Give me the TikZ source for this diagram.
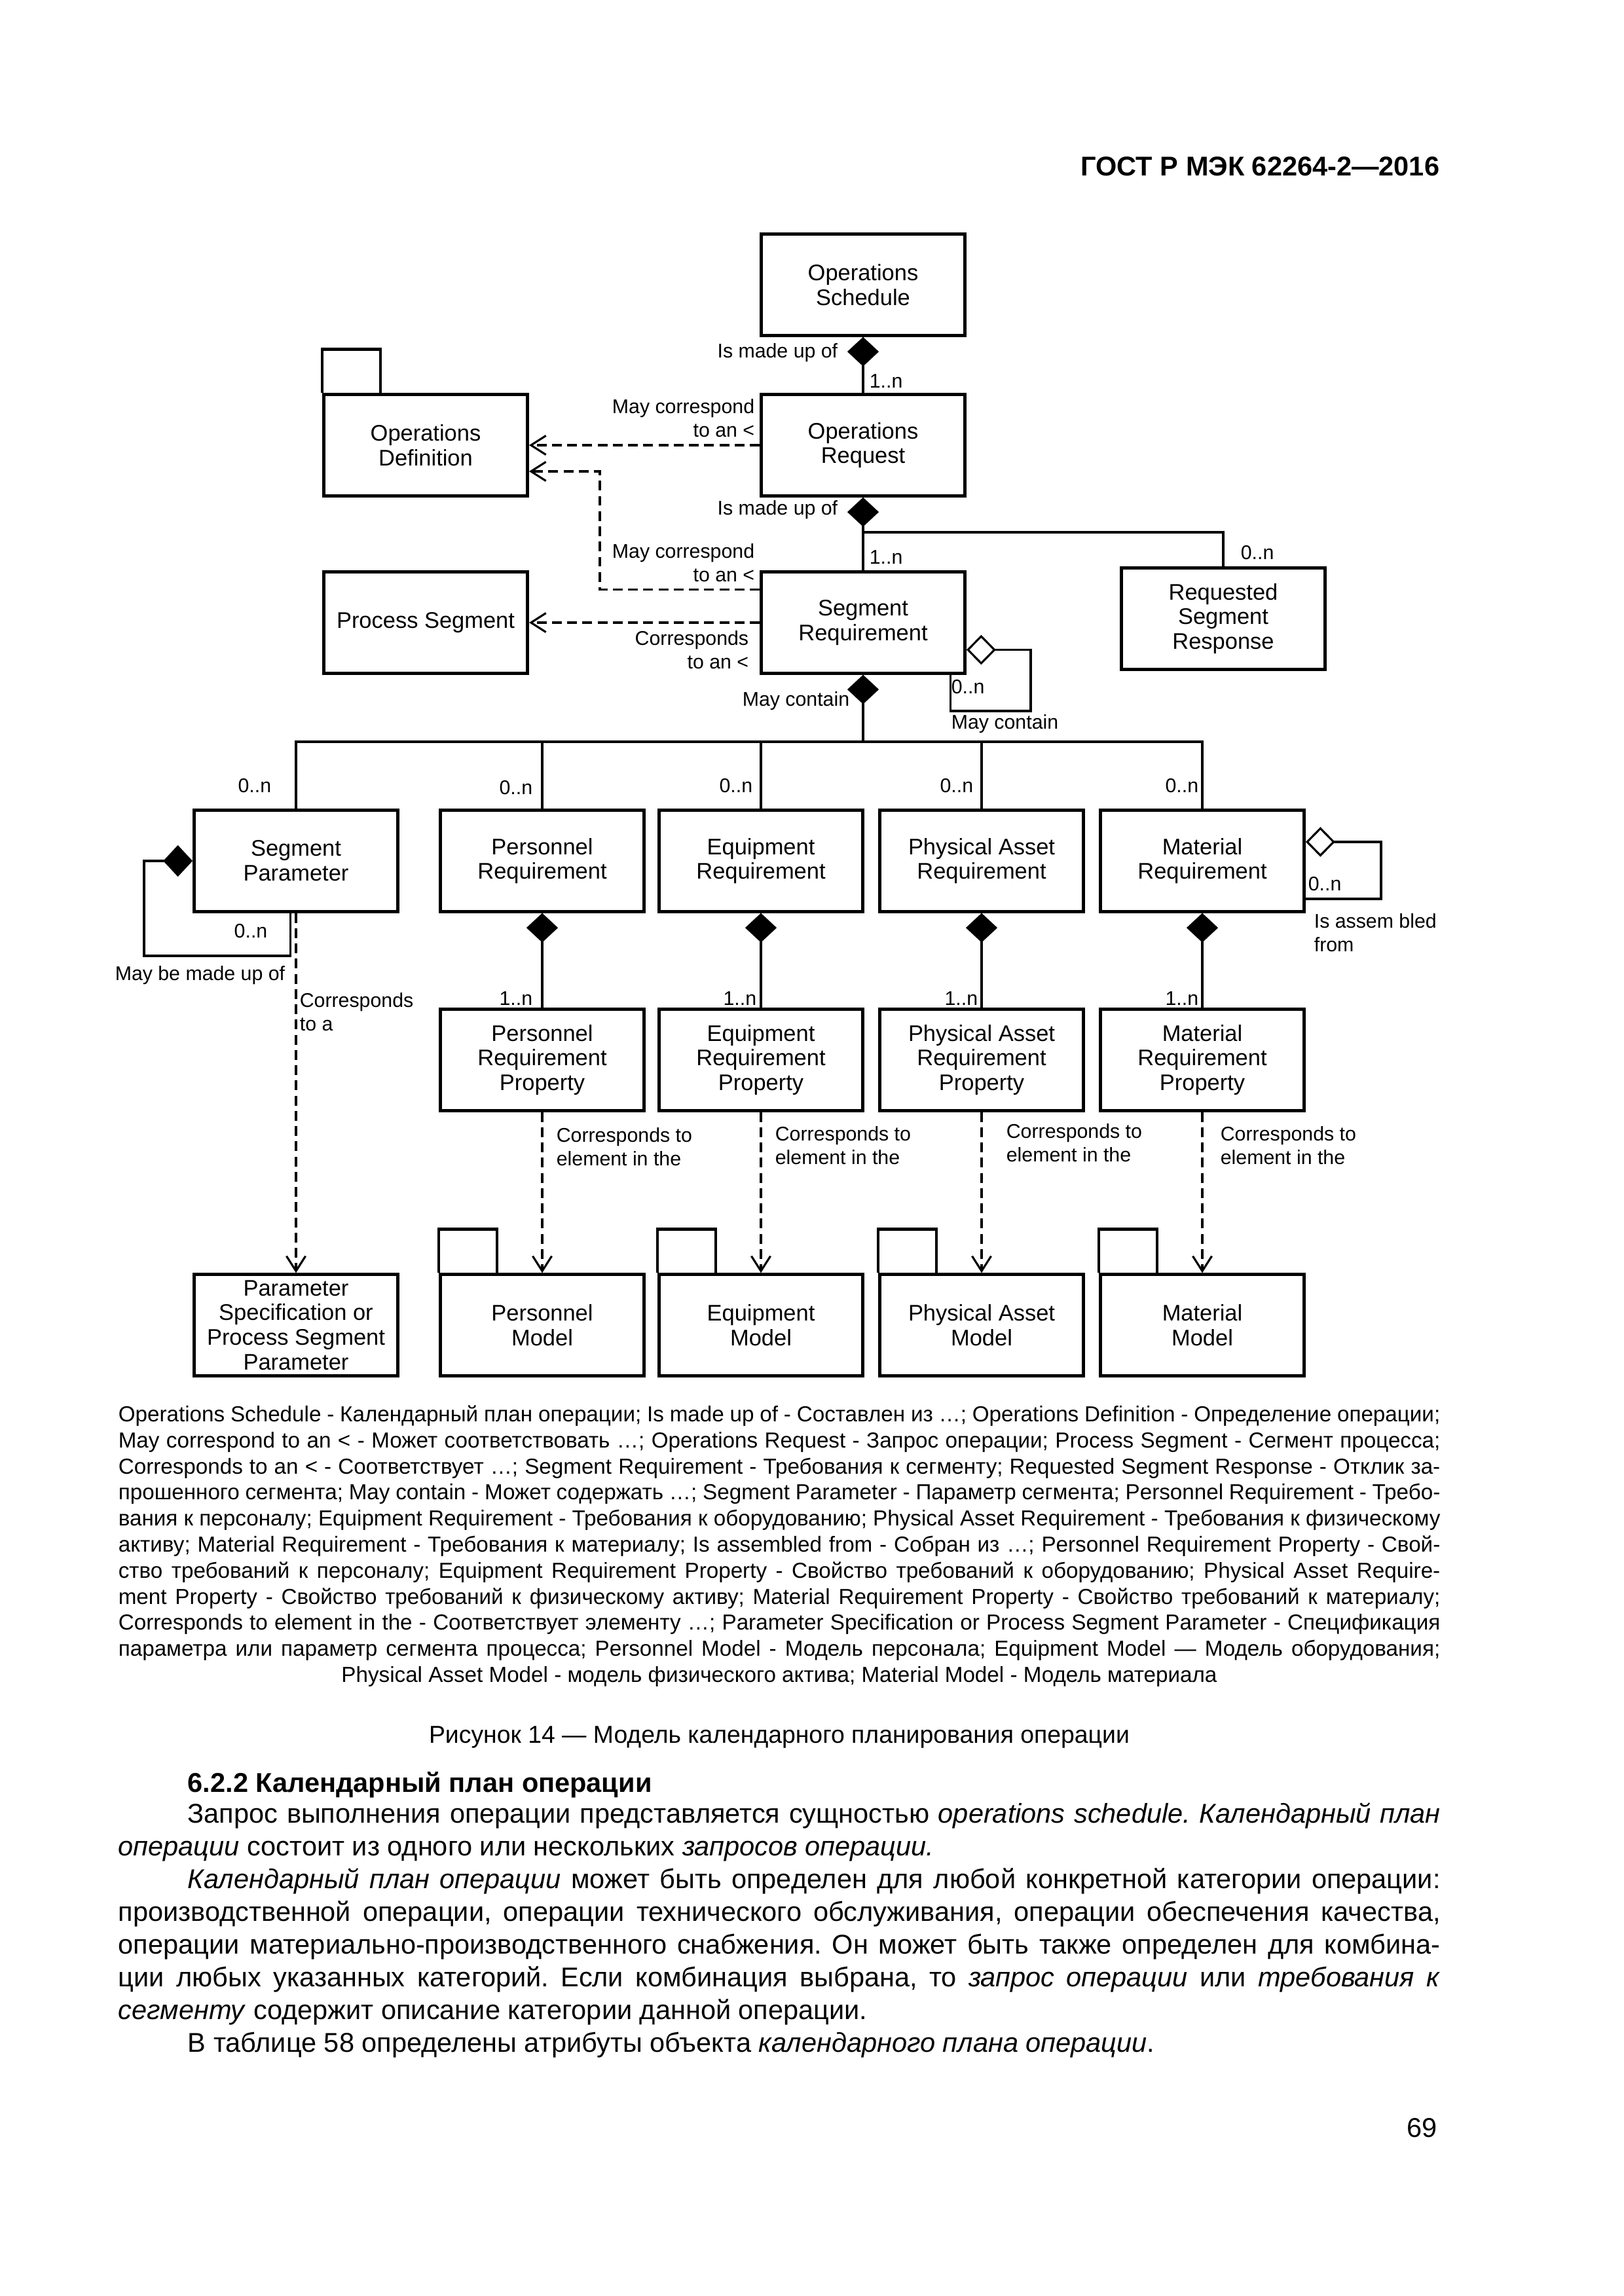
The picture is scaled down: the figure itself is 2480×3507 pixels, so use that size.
\documentclass[tikz,border=0pt]{standalone}
\usepackage{fontspec}
\setmainfont{Liberation Sans}
\usetikzlibrary{arrows.meta,positioning}
\frenchspacing
\newcommand{\boxfont}{\fontsize{8.3}{9.1}\selectfont}
\newcommand{\lblfont}{\fontsize{7.3}{8.7}\selectfont}
\newcommand{\legfont}{\fontsize{8}{9.6}\selectfont}
\newcommand{\bodyfont}{\fontsize{10}{12}\selectfont}
\newcommand{\fullline}[1]{\makebox[486.3pt][s]{#1}}
\newcommand{\indline}[1]{\makebox[460.8pt][s]{#1}}
\tikzstyle{entity} = [rectangle, draw, line width=1.1pt, minimum width=75pt, minimum height=37.3pt, inner sep=1pt, align=center, font=\boxfont]
\tikzstyle{link} = [line width=0.75pt]
\tikzstyle{comp} = [link, {Diamond[length=10.8pt,width=11.6pt]}-]
\tikzstyle{agg} = [link, {Diamond[open,length=10.8pt,width=11pt]}-]
\tikzstyle{dep} = [link, dash pattern=on 3.6pt off 2pt, -{Straight Barb[length=5.5pt,width=7pt]}]
\tikzstyle{lbl} = [inner sep=0pt, font=\lblfont]
\tikzstyle{legline} = [anchor=base west, inner sep=0pt, font=\legfont]
\tikzstyle{bodyline} = [anchor=base west, inner sep=0pt, font=\bodyfont]
\begin{document}
\begin{tikzpicture}[x=0.2409pt, y=-0.2409pt]
\fill[white] (0,0) rectangle (2480,3507);
\useasboundingbox (0,0) rectangle (2480,3507);

% Header
\node[anchor=base east, inner sep=0pt, font=\fontsize{10}{12}\selectfont\bfseries] (hdr) at (2199,268) {ГОСТ Р МЭК 62264-2—2016};

% Boxes
\node[entity] (os) at (1318,435) {Operations\\Schedule};
\node[entity] (or) at (1318,680) {Operations\\Request};
\node[entity] (od) at (650,680) {Operations\\Definition};
\node[entity] (ps) at (650,951) {Process Segment};
\node[entity] (sr) at (1318,951) {Segment\\Requirement};
\node[entity] (rsr) at (1868,945) {Requested\\Segment\\Response};

\node[entity] (sp) at (452,1315) {Segment\\Parameter};
\node[entity] (pr) at (828,1315) {Personnel\\Requirement};
\node[entity] (er) at (1162,1315) {Equipment\\Requirement};
\node[entity] (par) at (1499,1315) {Physical Asset\\Requirement};
\node[entity] (mr) at (1836,1315) {Material\\Requirement};

\node[entity] (prp) at (828,1619) {Personnel\\Requirement\\Property};
\node[entity] (erp) at (1162,1619) {Equipment\\Requirement\\Property};
\node[entity] (parp) at (1499,1619) {Physical Asset\\Requirement\\Property};
\node[entity] (mrp) at (1836,1619) {Material\\Requirement\\Property};

\node[entity, inner ysep=0pt] (pspec) at (452,2024) {Parameter\\Specification or\\Process Segment\\Parameter};
\node[entity] (prm) at (828,2024) {Personnel\\Model};
\node[entity] (erm) at (1162,2024) {Equipment\\Model};
\node[entity] (parm) at (1499,2024) {Physical Asset\\Model};
\node[entity] (mrm) at (1836,2024) {Material\\Model};

% Package tabs
\foreach \m in {od,prm,erm,parm,mrm}
  \draw[line width=1.1pt] (\m.north west) -- ++(0,-67) -- ++(89,0) -- ++(0,67);

% Helper points
\coordinate (odbend) at (916,720);
\coordinate (rsrj) at (1318,813);
\coordinate (bus) at (452,1133);
\coordinate (srloop) at (1574,1086);
\coordinate (mrloop) at (2109,1373);
\coordinate (sploop) at (220,1460);

% Connectors
\draw[comp] (os.south) -- (or.north);
\draw[comp] (or.south) -- (sr.north);
\draw[link] (rsrj) -| (rsr.north);
\draw[dep] (or.west) -- (od.east);
\draw[dep] ([yshift=12.2pt]sr.west) -| (odbend) -- (odbend -| od.east);
\draw[dep] (sr.west) -- (ps.east);
\draw[agg] ([yshift=-10pt]sr.east) -| (srloop) -| ([xshift=-5.8pt]sr.south east);

\draw[comp] (sr.south) -- (sr.south |- bus);
\draw[link] (sp.north) |- (mr.north |- bus) -- (mr.north);
\foreach \n in {pr,er,par}
  \draw[link] (\n.north) -- (\n.north |- bus);

\foreach \n/\p/\m in {pr/prp/prm, er/erp/erm, par/parp/parm, mr/mrp/mrm} {
  \draw[comp] (\n.south) -- (\p.north);
  \draw[dep] (\p.south) -- (\m.north);
}
\draw[dep] (sp.south) -- (pspec.north);
\draw[comp] (sp.west) -| (sploop) -| ([xshift=-2pt]sp.south);
\draw[agg] ([yshift=7pt]mr.east) -| (mrloop) -- (mrloop -| mr.east);

% Labels
\node[lbl, anchor=east] (l1) at (1280,539) {Is made up of};
\node[lbl, anchor=west] (l2) at (1327,582) {1..n};
\node[lbl, anchor=east, align=right] (l3) at (1153,639) {May correspond\\to an <};
\node[lbl, anchor=east] (l4) at (1280,779) {Is made up of};
\node[lbl, anchor=west] (l5) at (1327,851) {1..n};
\node[lbl, anchor=west] (l6) at (1894,844) {0..n};
\node[lbl, anchor=east, align=right] (l7) at (1153,860) {May correspond\\to an <};
\node[lbl, anchor=east, align=right] (l8) at (1144,993) {Corresponds\\to an <};
\node[lbl, anchor=west] (l9) at (1452,1049) {0..n};
\node[lbl, anchor=west] (l10) at (1452,1106) {May contain};
\node[lbl, anchor=east] (l11) at (1298,1071) {May contain};

\node[lbl, anchor=east] (m1) at (415,1200) {0..n};
\node[lbl, anchor=east] (m2) at (814,1203) {0..n};
\node[lbl, anchor=east] (m3) at (1150,1200) {0..n};
\node[lbl, anchor=east] (m4) at (1487,1200) {0..n};
\node[lbl, anchor=east] (m5) at (1831,1200) {0..n};
\node[lbl] (m6) at (383,1422) {0..n};
\node[lbl, anchor=east] (m7) at (436,1490) {May be made up of};
\node[lbl, anchor=west, align=left] (m8) at (457,1546) {Corresponds\\to a};
\node[lbl, anchor=west] (m9) at (1997,1350) {0..n};
\node[lbl, anchor=west, align=left] (m10) at (2006,1425) {Is assem bled\\from};

\node[lbl, anchor=east] (n1) at (814,1525) {1..n};
\node[lbl, anchor=east] (n2) at (1156,1525) {1..n};
\node[lbl, anchor=east] (n3) at (1494,1525) {1..n};
\node[lbl, anchor=east] (n4) at (1831,1525) {1..n};

\node[lbl, anchor=west, align=left] (c1) at (849,1752) {Corresponds to\\element in the};
\node[lbl, anchor=west, align=left] (c2) at (1183,1750) {Corresponds to\\element in the};
\node[lbl, anchor=west, align=left] (c3) at (1536,1746) {Corresponds to\\element in the};
\node[lbl, anchor=west, align=left] (c4) at (1863,1750) {Corresponds to\\element in the};

% Legend
\node[legline] (leg1) at (180,2171) {\fullline{Operations Schedule - Календарный план операции; Is made up of - Составлен из …; Operations Definition - Определение операции;}};
\node[legline] (leg2) at (180,2211) {\fullline{May correspond to an < - Может соответствовать …; Operations Request - Запрос операции; Process Segment - Сегмент процесса;}};
\node[legline] (leg3) at (180,2251) {\fullline{Corresponds to an < - Соответствует …; Segment Requirement - Требования к сегменту; Requested Segment Response - Отклик за-}};
\node[legline] (leg4) at (180,2290) {\fullline{прошенного сегмента; May contain - Может содержать …; Segment Parameter - Параметр сегмента; Personnel Requirement - Требо-}};
\node[legline] (leg5) at (180,2330) {\fullline{вания к персоналу; Equipment Requirement - Требования к оборудованию; Physical Asset Requirement - Требования к физическому}};
\node[legline] (leg6) at (180,2370) {\fullline{активу; Material Requirement - Требования к материалу; Is assembled from - Собран из …; Personnel Requirement Property - Свой-}};
\node[legline] (leg7) at (180,2410) {\fullline{ство требований к персоналу; Equipment Requirement Property - Свойство требований к оборудованию; Physical Asset Require-}};
\node[legline] (leg8) at (180,2450) {\fullline{ment Property - Свойство требований к физическому активу; Material Requirement Property - Свойство требований к материалу;}};
\node[legline] (leg9) at (180,2489) {\fullline{Corresponds to element in the - Соответствует элементу …; Parameter Specification or Process Segment Parameter - Спецификация}};
\node[legline] (leg10) at (180,2529) {\fullline{параметра или параметр сегмента процесса; Personnel Model - Модель персонала; Equipment Model — Модель оборудования;}};
\node[legline, anchor=base] (leg11) at (1190,2569) {Physical Asset Model - модель физического актива; Material Model - Модель материала};

% Caption
\node[anchor=base, inner sep=0pt, font=\fontsize{9}{11}\selectfont] (cap) at (1190,2662) {Рисунок 14 — Модель календарного планирования операции};

% Text
\node[bodyline, font=\bodyfont\bfseries] (sec) at (286,2737) {6.2.2 Календарный план операции};
\node[bodyline] (txt1) at (286,2784) {\indline{Запрос выполнения операции представляется сущностью \textit{operations schedule. Календарный план}}};
\node[bodyline] (txt2) at (180,2834) {\textit{операции} состоит из одного или нескольких \textit{запросов операции.}};
\node[bodyline] (txt3) at (286,2884) {\indline{\textit{Календарный план операции} может быть определен для любой конкретной категории операции:}};
\node[bodyline] (txt4) at (180,2934) {\fullline{производственной операции, операции технического обслуживания, операции обеспечения качества,}};
\node[bodyline] (txt5) at (180,2984) {\fullline{операции материально-производственного снабжения. Он может быть также определен для комбина-}};
\node[bodyline] (txt6) at (180,3034) {\fullline{ции любых указанных категорий. Если комбинация выбрана, то \textit{запрос операции} или \textit{требования к}}};
\node[bodyline] (txt7) at (180,3084) {\textit{сегменту} содержит описание категории данной операции.};
\node[bodyline] (txt8) at (286,3134) {В таблице 58 определены атрибуты объекта \textit{календарного плана операции}.};

% Page number
\node[anchor=base east, inner sep=0pt, font=\bodyfont] (pgno) at (2195,3264) {69};
\end{tikzpicture}
\end{document}
